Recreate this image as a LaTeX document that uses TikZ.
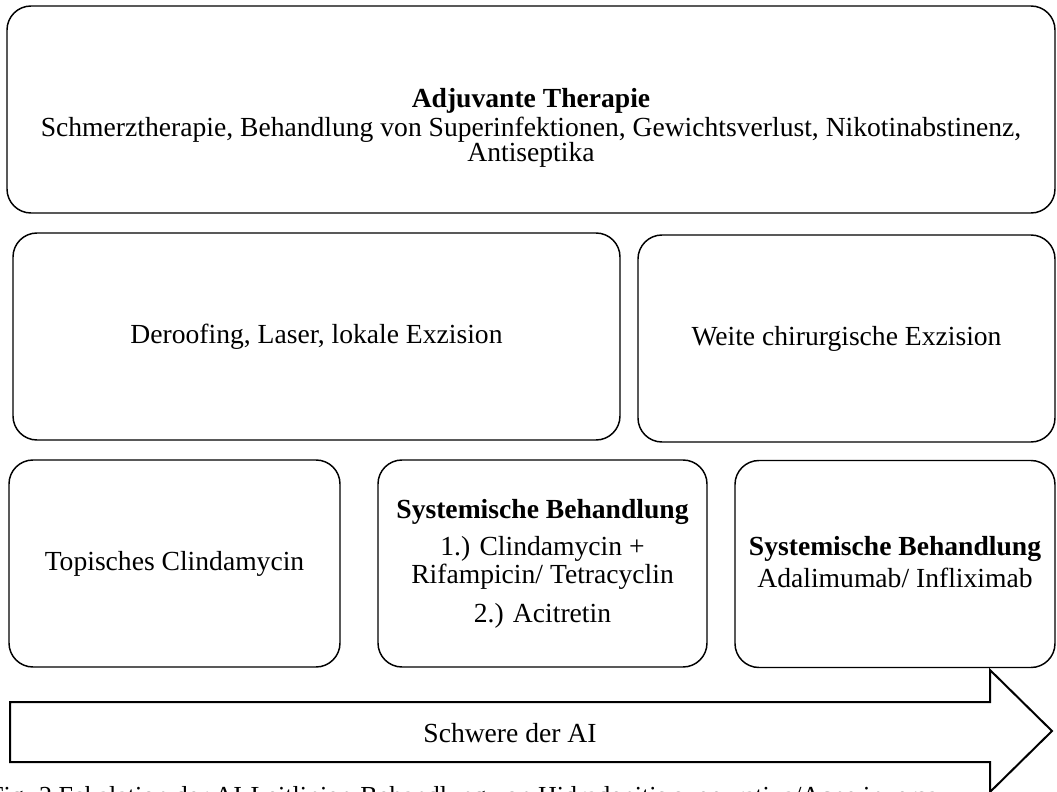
\documentclass[tikz,border=0pt]{standalone}
\usepackage{fontspec}
\setmainfont{Liberation Serif}
\begin{document}
\begin{tikzpicture}[x=0.75pt,y=-0.75pt,
  box/.style={draw, rounded corners=18pt, line width=1.1pt, align=center, inner sep=0pt},
  txt/.style={align=center, font=\fontsize{20.7}{22}\selectfont},
  bigarrow/.style={draw, line width=1.5pt, line join=miter}]
\useasboundingbox (0,0) rectangle (1057,792);
\begin{scope}
\clip (0,0) rectangle (1057,792);
% top box
\node[box, minimum width=786pt, minimum height=155.25pt] (top) at (531,109.5) {};
\node[txt] (toptxt) at (531,128) {\textbf{Adjuvante Therapie}\\[-0.5pt]
  Schmerztherapie, Behandlung von Superinfektionen, Gewichtsverlust, Nikotinabstinenz,\\[-3pt]
  Antiseptika};
% row 2
\node[box, txt, minimum width=455.25pt, minimum height=155.25pt] (surg1) at (316.5,336.5) {Deroofing, Laser, lokale Exzision};
\node[box, txt, minimum width=312.75pt, minimum height=155.25pt] (surg2) at (846.5,338.5) {Weite chirurgische Exzision};
% row 3
\node[box, txt, minimum width=248.25pt, minimum height=155.25pt] (topic) at (174.5,563.5) {Topisches Clindamycin};
\node[box, txt, minimum width=246.75pt, minimum height=155.25pt] (sys1) at (542.5,563.5) {\textbf{Systemische Behandlung}\\[5.8pt]
  1.) Clindamycin +\\[-1pt] Rifampicin/ Tetracyclin\\[7.3pt] 2.) Acitretin};
\node[box, minimum width=240pt, minimum height=155.25pt] (sys2) at (895,564) {};
\node[txt] (sys2txt) at (895,562) {\textbf{Systemische Behandlung}\\[2pt] Adalimumab/ Infliximab};
% arrow
\draw[bigarrow] (10,702) -- (990,702) -- (990,670) -- (1052,731) -- (990,792) -- (990,762) -- (10,762) -- cycle;
\node[txt] (sev) at (510,733) {Schwere der AI};
% caption (cut off at the lower edge, as in the reference)
\node[anchor=base west, inner sep=0pt, font=\fontsize{19.5}{23}\selectfont] (cap) at (-11,804) {Fig. 2 Eskalation der AI-Leitlinien-Behandlung von Hidradenitis suppurativa/Acne inversa};
\end{scope}
\end{tikzpicture}
\end{document}
